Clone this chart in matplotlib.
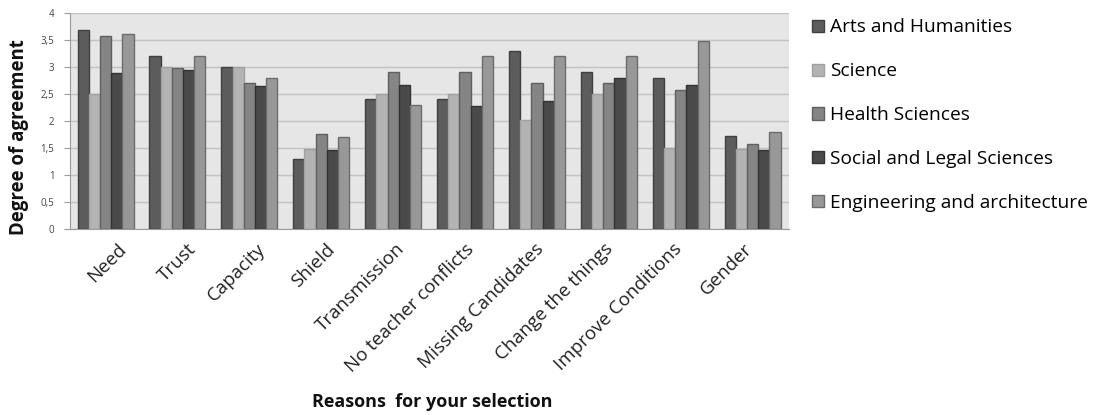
import matplotlib
matplotlib.use("Agg")
import matplotlib.pyplot as plt
import matplotlib.transforms as mtransforms
import numpy as np

categories = ["Need", "Trust", "Capacity", "Shield", "Transmission",
              "No teacher conflicts", "Missing Candidates", "Change the things",
              "Improve Conditions", "Gender"]
series_names = ["Arts and Humanities", "Science", "Health Sciences",
                "Social and Legal Sciences", "Engineering and architecture"]
arts = [3.69, 3.2, 3.0, 1.30, 2.40, 2.40, 3.30, 2.90, 2.79, 1.71]
science = [2.49, 3.0, 3.0, 1.48, 2.50, 2.50, 2.01, 2.50, 1.49, 1.48]
health = [3.57, 2.98, 2.70, 1.76, 2.90, 2.90, 2.70, 2.70, 2.57, 1.57]
social = [2.89, 2.94, 2.64, 1.46, 2.67, 2.27, 2.37, 2.79, 2.67, 1.46]
engineering = [3.61, 3.2, 2.79, 1.70, 2.29, 3.20, 3.20, 3.20, 3.48, 1.80]
yticks = [0, 0.5, 1, 1.5, 2, 2.5, 3, 3.5, 4]
ytick_labels = ["0", "0,5", "1", "1,5", "2", "2,5", "3", "3,5", "4"]

face_colors = ["#5c5c5c", "#b3b3b3", "#858585", "#4a4a4a", "#989898"]
edge_colors = ["#404040", "#a0a0a0", "#606060", "#333333", "#6c6c6c"]

plt.rcParams["font.family"] = ["Open Sans", "DejaVu Sans"]

fig = plt.figure(figsize=(10.96, 4.15), dpi=100)
ax = fig.add_axes([0.0635, 0.449, 0.656, 0.520])
ax.set_facecolor("#e6e6e6")

values = [arts, science, health, social, engineering]
x = np.arange(len(categories))
bw = 0.156
handles = []
for i, (vals, name) in enumerate(zip(values, series_names)):
    offs = (i - 2) * bw
    b = ax.bar(x + offs, vals, width=bw, color=face_colors[i],
               edgecolor=edge_colors[i], linewidth=1.0, label=name, zorder=3)
    handles.append(b)

ax.set_xlim(-0.5, len(categories) - 0.5)
ax.set_ylim(0, 4)
ax.set_yticks(yticks)
ax.set_yticklabels(ytick_labels, fontsize=7, color="#444444")
ax.yaxis.grid(True, color="#c2c2c2", linewidth=1.0, zorder=0)
ax.set_axisbelow(True)
for s in ["top", "right"]:
    ax.spines[s].set_visible(False)
ax.spines["left"].set_color("#9a9a9a")
ax.spines["bottom"].set_color("#9a9a9a")
ax.tick_params(axis="y", length=4, color="#9a9a9a", pad=7)
ax.tick_params(axis="x", length=0, pad=2)

ax.set_xticks(x)
ax.set_xticklabels(categories, rotation=45, ha="right", va="center",
                   rotation_mode="anchor", fontsize=13.5, color="#222222")
# Label anchors drift slightly left across the axis, as in the source chart
for i, lbl in enumerate(ax.get_xticklabels()):
    dx = (18 - 2.4 * i) / 100
    offset = mtransforms.ScaledTranslation(dx, -15 / 100, fig.dpi_scale_trans)
    lbl.set_transform(lbl.get_transform() + offset)

fig.text(0.017, 0.669, "Degree of agreement", rotation=90, ha="center",
         va="center", fontsize=13.4, fontweight="bold", color="#111111")
fig.text(0.394, 0.031, "Reasons  for your selection", ha="center",
         va="center", fontsize=13, fontweight="bold", color="#111111")

leg = fig.legend(handles, series_names, loc="upper left",
                 bbox_to_anchor=(0.7255, 0.997), frameon=False, fontsize=13.8,
                 handlelength=0.6, handleheight=0.6, handletextpad=0.3,
                 labelspacing=1.35)

fig.savefig("out.png", dpi=100)
